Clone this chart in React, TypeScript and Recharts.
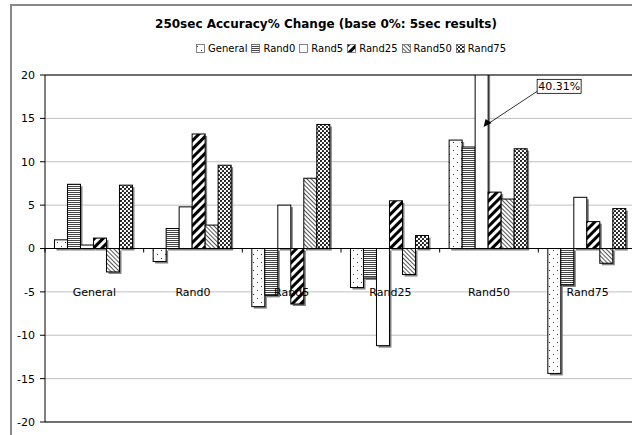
import React from 'react';
import { Bar, BarChart, CartesianGrid, LabelList, ReferenceLine, XAxis, YAxis } from 'recharts';

const categories = ['General', 'Rand0', 'Rand5', 'Rand25', 'Rand50', 'Rand75'];
const generalVals = [1.0, -1.5, -6.7, -4.5, 12.5, -14.4];
const rand0Vals = [7.4, 2.3, -5.4, -3.4, 11.7, -4.2];
const rand5Vals = [0.4, 4.8, 5.0, -11.2, 40.31, 5.9];
const rand25Vals = [1.2, 13.2, -6.4, 5.5, 6.5, 3.1];
const rand50Vals = [-2.7, 2.7, 8.1, -3.0, 5.7, -1.7];
const rand75Vals = [7.3, 9.6, 14.3, 1.5, 11.5, 4.6];
const yTicks = [-20, -15, -10, -5, 0, 5, 10, 15, 20];
const calloutText = '40.31%';

const series = [
    { key: 'General', vals: generalVals, fill: 'url(#pGeneral)' },
    { key: 'Rand0', vals: rand0Vals, fill: 'url(#pRand0)' },
    { key: 'Rand5', vals: rand5Vals, fill: '#ffffff' },
    { key: 'Rand25', vals: rand25Vals, fill: 'url(#pRand25)' },
    { key: 'Rand50', vals: rand50Vals, fill: 'url(#pRand50)' },
    { key: 'Rand75', vals: rand75Vals, fill: 'url(#pRand75)' },
];

const data = categories.map((name, i) => {
    const row: any = { name };
    series.forEach(s => { row[s.key] = s.vals[i]; });
    return row;
});

const FONT = '"DejaVu Sans", Verdana, sans-serif';
const CHART_W = 660;
const CHART_H = 450;
const X_H = 1;
const MARGIN = { top: 75, right: 23, left: 10, bottom: 27 };
const Y_W = 35;
const PLOT_H = CHART_H - MARGIN.top - MARGIN.bottom - X_H;
const PLOT_W = CHART_W - MARGIN.left - MARGIN.right - Y_W;
const BAND = PLOT_W / categories.length;
const valueY = (v: number) => MARGIN.top + PLOT_H * (20 - v) / 40;

const ShadowBar = (props: any) => {
    const { x, y, width, height, fill } = props;
    if (width == null || height == null) return null;
    const top = Math.min(y, y + height);
    const h = Math.abs(height);
    return (
        <g>
            <rect x={x + 2} y={top + 2} width={width} height={h} fill="#808080" />
            <rect x={x} y={top} width={width} height={h} fill={fill} stroke="#000" strokeWidth={1} />
        </g>
    );
};

// small category ticks on the zero line
const CatTick = (props: any) => {
    const { x } = props;
    const zero = valueY(0);
    return <line x1={x - BAND / 2} x2={x - BAND / 2} y1={zero} y2={zero + 4} stroke="#000" />;
};

// category names, drawn in an overlay chart so they sit above every bar
const CatName = (props: any) => {
    const { x, payload } = props;
    return (
        <text x={x} y={valueY(-5) + 4} textAnchor="middle" fontSize={11} fontFamily={FONT} fill="#000">
            {payload.value}
        </text>
    );
};

const Callout = (props: any) => {
    const { x, width, index } = props;
    if (index !== 4) return null;
    const tipX = x + width * 0.65;
    const tipY = valueY(14);
    const bx = x + width + 49;
    const by = valueY(19.5);
    return (
        <g>
            <line x1={bx} y1={by + 12} x2={tipX + 4} y2={tipY - 3} stroke="#000" strokeWidth={0.8} />
            <polygon points={`${tipX},${tipY} ${tipX + 2},${tipY - 8} ${tipX + 8},${tipY - 4}`} fill="#000" />
            <rect x={bx} y={by} width={44} height={14} fill="#fff" stroke="#000" strokeWidth={0.8} />
            <text x={bx + 22} y={by + 11} textAnchor="middle" fontSize={11} fontFamily={FONT} fill="#000">
                {calloutText}
            </text>
        </g>
    );
};

const Patterns = () => (
    <svg width={0} height={0} style={{ position: 'absolute' }}>
        <defs>
            <pattern id="pGeneral" width={8} height={8} patternUnits="userSpaceOnUse">
                <rect width={8} height={8} fill="#fff" />
                <rect x={1} y={2} width={1} height={1} fill="#333" />
                <rect x={5} y={6} width={1} height={1} fill="#333" />
            </pattern>
            <pattern id="pRand0" width={4} height={2} patternUnits="userSpaceOnUse">
                <rect width={4} height={2} fill="#fff" />
                <rect width={4} height={1} fill="#444" />
            </pattern>
            <pattern id="pRand25" width={6} height={6} patternUnits="userSpaceOnUse" patternTransform="rotate(45)">
                <rect width={6} height={6} fill="#fff" />
                <rect width={3} height={6} fill="#000" />
            </pattern>
            <pattern id="pRand50" width={3} height={3} patternUnits="userSpaceOnUse" patternTransform="rotate(-45)">
                <rect width={3} height={3} fill="#fff" />
                <rect width={1} height={3} fill="#555" />
            </pattern>
            <pattern id="pRand75" width={4} height={4} patternUnits="userSpaceOnUse">
                <rect width={4} height={4} fill="#fff" />
                <circle cx={1} cy={1} r={1.1} fill="#111" />
                <circle cx={3} cy={3} r={1.1} fill="#111" />
            </pattern>
        </defs>
    </svg>
);

const App: React.FC = () => {
    return (
        <div style={{ position: 'absolute', left: 0, top: 0, width: 632, height: 435, overflow: 'hidden', background: '#fff' }}>
            <Patterns />
            <div style={{ position: 'absolute', left: 10, top: 4, width: 800, height: 600, borderLeft: '2px solid #888', borderTop: '2px solid #888' }} />
            <div style={{ position: 'absolute', left: 0, width: 652, top: 17, textAlign: 'center', fontFamily: FONT, fontWeight: 'bold', fontSize: 12 }}>
                250sec Accuracy% Change (base 0%: 5sec results)
            </div>
            <div style={{ position: 'absolute', left: 196, top: 43, display: 'flex', alignItems: 'center', fontFamily: FONT, fontSize: 10, whiteSpace: 'nowrap' }}>
                {series.map(s => (
                    <span key={s.key} style={{ display: 'inline-flex', alignItems: 'center', marginRight: 4 }}>
                        <svg width={10} height={10} style={{ marginRight: 2 }}>
                            <rect x={0.5} y={0.5} width={8} height={8} fill={s.fill} stroke="#666" strokeWidth={0.8} />
                        </svg>
                        {s.key}
                    </span>
                ))}
            </div>
            <div style={{ position: 'absolute', left: 0, top: 0 }}>
                <BarChart width={CHART_W} height={CHART_H} data={data} margin={MARGIN} barGap={0} barCategoryGap="9.6%">
                    <CartesianGrid vertical={false} stroke="#c0c0c0" />
                    <XAxis dataKey="name" height={X_H} axisLine={false} tickLine={false} tick={(p: any) => <CatTick {...p} />} interval={0} />
                    <YAxis width={Y_W} domain={[-20, 20]} ticks={yTicks} allowDataOverflow
                        axisLine={{ stroke: '#000' }} tickLine={{ stroke: '#000' }} tickSize={5} tickMargin={5}
                        tick={{ fontSize: 11, fontFamily: FONT, fill: '#000' }} />
                    <ReferenceLine y={20} stroke="#000" />
                    <ReferenceLine y={-20} stroke="#000" />
                    <ReferenceLine y={0} stroke="#000" />
                    {series.map(s => (
                        <Bar key={s.key} dataKey={s.key} fill={s.fill} shape={<ShadowBar />} isAnimationActive={false}>
                            {s.key === 'Rand5' ? <LabelList content={<Callout />} /> : null}
                        </Bar>
                    ))}
                </BarChart>
            </div>
            <div style={{ position: 'absolute', left: 0, top: 0, pointerEvents: 'none' }}>
                <BarChart width={CHART_W} height={CHART_H} data={data} margin={MARGIN} barGap={0} barCategoryGap="9.6%">
                    <XAxis dataKey="name" height={X_H} axisLine={false} tickLine={false} tick={(p: any) => <CatName {...p} />} interval={0} />
                    <YAxis width={Y_W} domain={[-20, 20]} ticks={yTicks} allowDataOverflow axisLine={false} tickLine={false} tick={false} />
                </BarChart>
            </div>
        </div>
    );
};

export default App;
